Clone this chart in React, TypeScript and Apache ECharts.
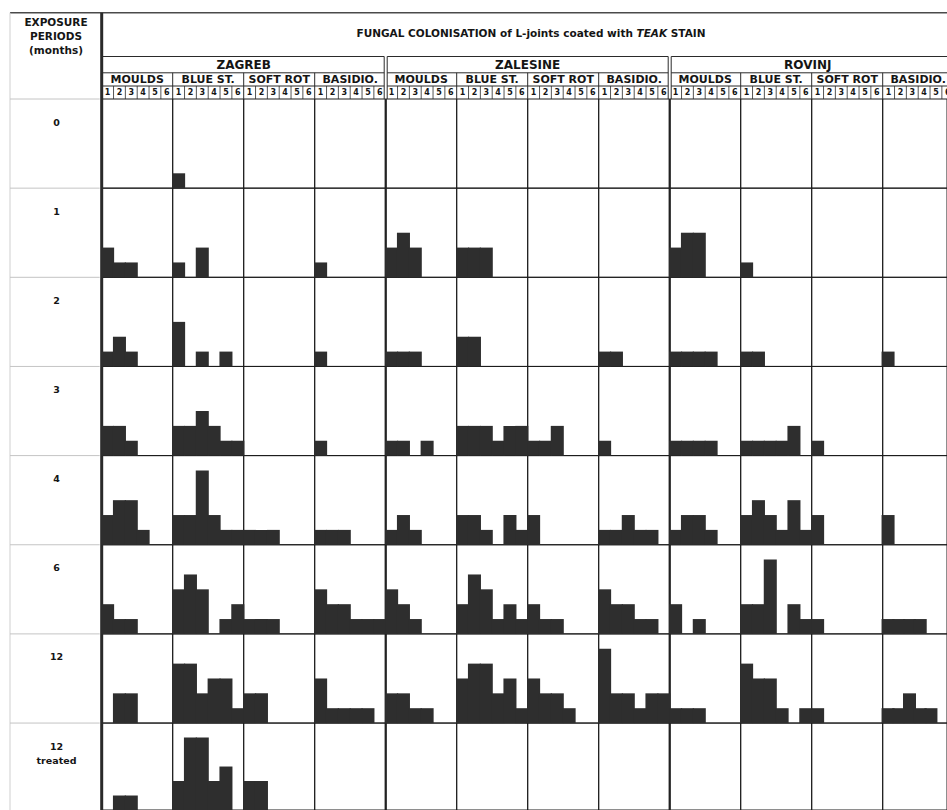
import React, { useEffect, useRef } from "react";
import * as echarts from "echarts";

// ---- data ----
const periods = ["0", "1", "2", "3", "4", "6", "12", "12\ntreated"];
const locations = ["ZAGREB", "ZALESINE", "ROVINJ"];
const fungi = ["MOULDS", "BLUE ST.", "SOFT ROT", "BASIDIO."];
const ratings = ["1", "2", "3", "4", "5", "6"];
const headerLeft = ["EXPOSURE", "PERIODS", "(months)"];

// each array: one row per exposure period, six ratings per row
const zagrebMoulds = [
  [0, 0, 0, 0, 0, 0], [2, 1, 1, 0, 0, 0], [1, 2, 1, 0, 0, 0], [2, 2, 1, 0, 0, 0],
  [2, 3, 3, 1, 0, 0], [2, 1, 1, 0, 0, 0], [0, 2, 2, 0, 0, 0], [0, 1, 1, 0, 0, 0],
];
const zagrebBlue = [
  [1, 0, 0, 0, 0, 0], [1, 0, 2, 0, 0, 0], [3, 0, 1, 0, 1, 0], [2, 2, 3, 2, 1, 1],
  [2, 2, 5, 2, 1, 1], [3, 4, 3, 0, 1, 2], [4, 4, 2, 3, 3, 1], [2, 5, 5, 2, 3, 0],
];
const zagrebSoftRot = [
  [0, 0, 0, 0, 0, 0], [0, 0, 0, 0, 0, 0], [0, 0, 0, 0, 0, 0], [0, 0, 0, 0, 0, 0],
  [1, 1, 1, 0, 0, 0], [1, 1, 1, 0, 0, 0], [2, 2, 0, 0, 0, 0], [2, 2, 0, 0, 0, 0],
];
const zagrebBasidio = [
  [0, 0, 0, 0, 0, 0], [1, 0, 0, 0, 0, 0], [1, 0, 0, 0, 0, 0], [1, 0, 0, 0, 0, 0],
  [1, 1, 1, 0, 0, 0], [3, 2, 2, 1, 1, 1], [3, 1, 1, 1, 1, 0], [0, 0, 0, 0, 0, 0],
];
const zalesineMoulds = [
  [0, 0, 0, 0, 0, 0], [2, 3, 2, 0, 0, 0], [1, 1, 1, 0, 0, 0], [1, 1, 0, 1, 0, 0],
  [1, 2, 1, 0, 0, 0], [3, 2, 1, 0, 0, 0], [2, 2, 1, 1, 0, 0], [0, 0, 0, 0, 0, 0],
];
const zalesineBlue = [
  [0, 0, 0, 0, 0, 0], [2, 2, 2, 0, 0, 0], [2, 2, 0, 0, 0, 0], [2, 2, 2, 1, 2, 2],
  [2, 2, 1, 0, 2, 1], [2, 4, 3, 1, 2, 1], [3, 4, 4, 2, 3, 1], [0, 0, 0, 0, 0, 0],
];
const zalesineSoftRot = [
  [0, 0, 0, 0, 0, 0], [0, 0, 0, 0, 0, 0], [0, 0, 0, 0, 0, 0], [1, 1, 2, 0, 0, 0],
  [2, 0, 0, 0, 0, 0], [2, 1, 1, 0, 0, 0], [3, 2, 2, 1, 0, 0], [0, 0, 0, 0, 0, 0],
];
const zalesineBasidio = [
  [0, 0, 0, 0, 0, 0], [0, 0, 0, 0, 0, 0], [1, 1, 0, 0, 0, 0], [1, 0, 0, 0, 0, 0],
  [1, 1, 2, 1, 1, 0], [3, 2, 2, 1, 1, 0], [5, 2, 2, 1, 2, 2], [0, 0, 0, 0, 0, 0],
];
const rovinjMoulds = [
  [0, 0, 0, 0, 0, 0], [2, 3, 3, 0, 0, 0], [1, 1, 1, 1, 0, 0], [1, 1, 1, 1, 0, 0],
  [1, 2, 2, 1, 0, 0], [2, 0, 1, 0, 0, 0], [1, 1, 1, 0, 0, 0], [0, 0, 0, 0, 0, 0],
];
const rovinjBlue = [
  [0, 0, 0, 0, 0, 0], [1, 0, 0, 0, 0, 0], [1, 1, 0, 0, 0, 0], [1, 1, 1, 1, 2, 0],
  [2, 3, 2, 1, 3, 1], [2, 2, 5, 0, 2, 1], [4, 3, 3, 1, 0, 1], [0, 0, 0, 0, 0, 0],
];
const rovinjSoftRot = [
  [0, 0, 0, 0, 0, 0], [0, 0, 0, 0, 0, 0], [0, 0, 0, 0, 0, 0], [1, 0, 0, 0, 0, 0],
  [2, 0, 0, 0, 0, 0], [1, 0, 0, 0, 0, 0], [1, 0, 0, 0, 0, 0], [0, 0, 0, 0, 0, 0],
];
const rovinjBasidio = [
  [0, 0, 0, 0, 0, 0], [0, 0, 0, 0, 0, 0], [1, 0, 0, 0, 0, 0], [0, 0, 0, 0, 0, 0],
  [2, 0, 0, 0, 0, 0], [1, 1, 1, 1, 0, 0], [1, 1, 2, 1, 1, 0], [0, 0, 0, 0, 0, 0],
];

const panelColumns = [
  zagrebMoulds, zagrebBlue, zagrebSoftRot, zagrebBasidio,
  zalesineMoulds, zalesineBlue, zalesineSoftRot, zalesineBasidio,
  rovinjMoulds, rovinjBlue, rovinjSoftRot, rovinjBasidio,
];

// ---- layout ----
const W = 947;
const H = 810;
const X0 = 101.7;
const PW = 71;
const Y0 = 99;
const RH = 89.15;
const FONT = "DejaVu Sans";
const INK = "#151515";
const BAR = "#2e2e2e";

function buildOption() {
  const grid: any[] = [];
  const xAxis: any[] = [];
  const yAxis: any[] = [];
  const series: any[] = [];
  const nCols = panelColumns.length;
  const barW = PW / ratings.length + 1.2;
  for (let r = 0; r < periods.length; r++) {
    for (let c = 0; c < nCols; c++) {
      const idx = r * nCols + c;
      grid.push({
        left: X0 + c * PW,
        top: Y0 + r * RH,
        width: PW,
        height: RH,
        show: true,
        borderColor: "#1c1c1c",
        borderWidth: 1,
        backgroundColor: "rgba(0,0,0,0)",
      });
      xAxis.push({ type: "category", gridIndex: idx, data: ratings, show: false, boundaryGap: true });
      yAxis.push({ type: "value", gridIndex: idx, min: 0, max: 6, show: false });
      series.push({
        type: "bar",
        xAxisIndex: idx,
        yAxisIndex: idx,
        data: panelColumns[c][r].map((v) => (v > 0 ? v : null)),
        barWidth: barW,
        barGap: "0%",
        silent: true,
        clip: false,
        itemStyle: { color: BAR, borderWidth: 0 },
      });
    }
  }

  const g: any[] = [];
  const line = (x1: number, y1: number, x2: number, y2: number, stroke: string, lw: number) =>
    g.push({ type: "line", silent: true, shape: { x1, y1, x2, y2 }, style: { stroke, lineWidth: lw } });
  const text = (t: string, x: number, y: number, size: number, extra: any = {}) =>
    g.push({
      type: "text", silent: true, x, y,
      style: { text: t, fill: INK, font: `bold ${size}px "${FONT}"`, align: "center", verticalAlign: "middle", ...extra },
    });

  // frame top line and left column
  line(10, 12.7, W, 12.7, "#4a4a4a", 1.5);
  line(10, 12.7, 10, H, "#cfcfcf", 1);
  for (let r = 0; r <= periods.length; r++) {
    const y = Y0 + r * RH;
    line(10, y, X0 - 2, y, "#c4c4c4", 1);
  }
  line(X0, 12.7, X0, H, "#2a2a2a", 3);

  headerLeft.forEach((t, i) => text(t, 56, 21.5 + i * 14, 10.5));

  periods.forEach((p, r) => {
    p.split("\n").forEach((t, i) => text(t, 56.5, Y0 + r * RH + 23 + i * 14.7, 9.5));
  });

  // title
  g.push({
    type: "text", silent: true, x: 531, y: 33,
    style: {
      text: "{n|FUNGAL COLONISATION of L-joints coated with }{i|TEAK}{n| STAIN}",
      align: "center", verticalAlign: "middle",
      rich: {
        n: { fontFamily: FONT, fontWeight: "bold", fontSize: 10.5, fill: INK, color: INK },
        i: { fontFamily: FONT, fontWeight: "bold", fontStyle: "italic", fontSize: 10.5, fill: INK, color: INK },
      },
    },
  });

  // location groups
  const yLocTop = 56.5, yLocBot = 72.8, yFunBot = 86;
  locations.forEach((loc, li) => {
    const gx0 = X0 + li * 4 * PW;
    const gx1 = gx0 + 4 * PW;
    const a = li === 0 ? gx0 : gx0 + 1.5;
    const b = gx1 - 1.5;
    line(a, yLocTop, b, yLocTop, "#2a2a2a", 1.2);
    line(a, yLocBot, b, yLocBot, "#2a2a2a", 1);
    line(a, yFunBot, b, yFunBot, "#2a2a2a", 1);
    if (li > 0) line(a, yLocTop, a, Y0, "#2a2a2a", 1);
    line(b, yLocTop, b, Y0, "#2a2a2a", 1);
    text(loc, (gx0 + gx1) / 2 - (li === 2 ? 4 : 0), 65, 12);
    fungi.forEach((f, fi) => {
      const px = gx0 + fi * PW;
      text(f, px + PW / 2, 79.6, 11);
      if (fi > 0) line(px, yLocBot, px, Y0, "#2a2a2a", 1);
      ratings.forEach((n, ni) => {
        const bw = PW / ratings.length;
        text(n, px + bw * (ni + 0.5), 92.5, 8);
        if (ni > 0) line(px + bw * ni, yFunBot, px + bw * ni, Y0, "#2a2a2a", 0.8);
      });
    });
    if (li > 0) line(gx0, Y0, gx0, H, "#222", 2.2);
  });

  return {
    animation: false,
    backgroundColor: "#ffffff",
    grid,
    xAxis,
    yAxis,
    series,
    graphic: { elements: g },
  };
}

export default function App() {
  const ref = useRef<HTMLDivElement>(null);
  useEffect(() => {
    if (!ref.current) return;
    const chart = echarts.init(ref.current, undefined, { renderer: "svg", width: W, height: H });
    chart.setOption(buildOption() as any);
    return () => chart.dispose();
  }, []);
  return (
    <div
      ref={ref}
      style={{ position: "fixed", left: 0, top: 0, width: W, height: H, background: "#fff" }}
    />
  );
}
